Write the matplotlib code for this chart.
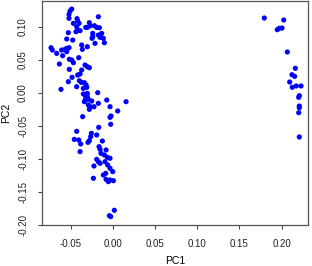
import matplotlib
matplotlib.use("Agg")
import matplotlib.pyplot as plt
import numpy as np

plt.rcParams['font.family'] = ['Liberation Sans', 'DejaVu Sans']

# main cluster
pc1_main = [
    -0.0486, -0.0506, -0.0518, -0.0518, -0.0466, -0.0423, -0.0415, -0.0399, -0.0427, -0.0415,
    -0.0387, -0.0435, -0.0526, -0.0474, -0.0545, -0.0320, -0.0277, -0.0269, -0.0301, -0.0218,
    -0.0170, -0.0190, -0.0158, -0.0237, -0.0237, -0.0170, -0.0131, -0.0150, -0.0111, -0.0099,
    -0.0210, -0.0245, -0.0368, -0.0360, -0.0301, -0.0731, -0.0715, -0.0664, -0.0605, -0.0565,
    -0.0545, -0.0518, -0.0545, -0.0593, -0.0632, -0.0514, -0.0486, -0.0466, -0.0514, -0.0403,
    -0.0328, -0.0301, -0.0277, -0.0368, -0.0387, -0.0415, -0.0482, -0.0526, -0.0613, -0.0427,
    -0.0395, -0.0372, -0.0336, -0.0316, -0.0348, -0.0308, -0.0301, -0.0348, -0.0320, -0.0301,
    -0.0289, -0.0324, -0.0249, -0.0289, -0.0269, -0.0277, -0.0336, -0.0178, -0.0222, -0.0170,
    -0.0071, -0.0032, 0.0059, 0.0158, -0.0356, -0.0020, -0.0032, -0.0024, -0.0166,
    -0.0427, -0.0455, -0.0403, -0.0380, -0.0387, -0.0253, -0.0261, -0.0277, -0.0293, -0.0190,
    -0.0123, -0.0162, -0.0150, -0.0079, -0.0139, -0.0099, -0.0190, -0.0170, -0.0064, -0.0032,
    -0.0091, -0.0150, -0.0222, -0.0060, -0.0032, 0.0000, -0.0083, -0.0111, -0.0229, -0.0079,
    -0.0052, -0.0032, 0.0008, -0.0024, 0.0019, -0.0040,
]
pc2_main = [
    0.1268, 0.1238, 0.1187, 0.1127, 0.1051, 0.1122, 0.1086, 0.1051, 0.1001, 0.0950,
    0.0940, 0.0925, 0.0910, 0.0798, 0.0814, 0.0990, 0.1061, 0.1011, 0.0990, 0.1016,
    0.1152, 0.0990, 0.0985, 0.0899, 0.0849, 0.0874, 0.0899, 0.0839, 0.0824, 0.0758,
    0.0748, 0.0824, 0.0723, 0.0657, 0.0697, 0.0682, 0.0647, 0.0596, 0.0647, 0.0657,
    0.0672, 0.0682, 0.0622, 0.0561, 0.0435, 0.0506, 0.0495, 0.0455, 0.0354, 0.0531,
    0.0420, 0.0394, 0.0379, 0.0344, 0.0283, 0.0268, 0.0233, 0.0167, 0.0051, 0.0091,
    0.0182, 0.0157, 0.0152, 0.0117, 0.0066, 0.0081, -0.0010, -0.0020, -0.0060, -0.0060,
    -0.0101, -0.0111, -0.0126, -0.0186, -0.0212, -0.0252, -0.0136, 0.0001, -0.0212, -0.0161,
    -0.0111, -0.0212, -0.0277, -0.0136, -0.0363, -0.0353, -0.0373, -0.0479, -0.0525,
    -0.0585, -0.0707, -0.0717, -0.0777, -0.0893, -0.0616, -0.0666, -0.0727, -0.0752, -0.0641,
    -0.0732, -0.0818, -0.0858, -0.0868, -0.0919, -0.0944, -0.1010, -0.1045, -0.0979, -0.0994,
    -0.1045, -0.1070, -0.1111, -0.1095, -0.1146, -0.1196, -0.1222, -0.1247, -0.1297, -0.1313,
    -0.1348, -0.1323, -0.1333, -0.1878, -0.1782, -0.1864,
]

# small group on the right
pc1_right = [0.1796, 0.2026, 0.1950, 0.1974, 0.2006, 0.2069, 0.2164, 0.2124, 0.2156, 0.2097,
             0.2128, 0.2175, 0.2231, 0.2211, 0.2204, 0.2211, 0.2211, 0.2204, 0.2211]
pc2_right = [0.1132, 0.1102, 0.0955, 0.0976, 0.0980, 0.0617, 0.0370, 0.0273, 0.0248, 0.0162,
             0.0082, 0.0102, 0.0102, -0.0045, -0.0070, -0.0202, -0.0227, -0.0303, -0.0671]

xticks = [-0.05, 0.00, 0.05, 0.10, 0.15, 0.20]
yticks = [-0.20, -0.15, -0.10, -0.05, 0.00, 0.05, 0.10]

fig = plt.figure(figsize=(3.12, 2.66), dpi=100)
ax = fig.add_axes([42/312, 1 - 225/266, 266/312, 224/266])

pc1 = np.array(pc1_main + pc1_right)
pc2 = np.array(pc2_main + pc2_right)
ax.scatter(pc1, pc2, s=14, color='#0000ff', edgecolors='none')

ax.set_xlim(-0.0838, 0.2314)
ax.set_ylim(-0.2005, 0.139)
ax.set_xticks(xticks)
ax.set_yticks(yticks)
ax.set_xticklabels(['%.2f' % v for v in xticks])
ax.set_yticklabels(['%.2f' % v for v in yticks], rotation=90, va='center')
ax.tick_params(labelsize=7, length=3, width=0.8, color='#444444', labelcolor='#222222', pad=7)

for s in ax.spines.values():
    s.set_color('#555555')
    s.set_linewidth(0.9)

ax.set_xlabel('PC1', fontsize=7.5, labelpad=5)
ax.set_ylabel('PC2', fontsize=7.5, labelpad=5)

fig.savefig('out.png', dpi=100)
